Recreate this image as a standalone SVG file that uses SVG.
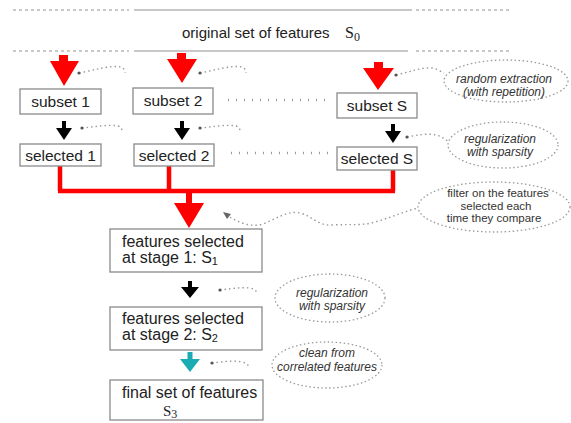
<svg xmlns="http://www.w3.org/2000/svg" width="571" height="423" viewBox="0 0 571 423">
<defs>
<style>
.bg{fill:#ffffff}
.hdash{stroke:#c8c8c8;stroke-width:2;stroke-dasharray:3 3;fill:none}
.hsolid{stroke:#c8c8c8;stroke-width:2;fill:none}
.box{fill:#ffffff;stroke:#8a8a8a;stroke-width:1.3}
.lbl{font-family:"Liberation Sans",Arial,sans-serif;font-size:15.5px;fill:#222}
.big{font-family:"Liberation Sans",Arial,sans-serif;font-size:16px;fill:#222}
.title{font-family:"Liberation Sans",Arial,sans-serif;font-size:15px;fill:#222}
.math{font-family:"Liberation Serif","Times New Roman",serif;fill:#222}
.note{font-family:"Liberation Sans",Arial,sans-serif;font-size:12px;fill:#333;text-anchor:middle}
.note2{font-family:"Liberation Sans",Arial,sans-serif;font-size:11.5px;fill:#333;text-anchor:middle}
.it{font-style:italic}
.ell{fill:none;stroke:#9a9a9a;stroke-width:1.3;stroke-dasharray:1.5 2.5}
.lead{fill:none;stroke:#9a9a9a;stroke-width:1.4;stroke-dasharray:1.5 3}
.dot{fill:#555}
.gap{stroke:#9a9a9a;stroke-width:2.5;stroke-dasharray:1 7;fill:none}
.red{fill:#ff0000}
.redl{stroke:#ff0000;stroke-width:4.5;fill:none}
.blk{fill:#000}
.teal{fill:#1aacb2}
</style>
</defs>
<rect class="bg" x="0" y="0" width="571" height="423"/>

<g id="header">
<line class="hdash" x1="13" y1="10" x2="129" y2="10"/>
<line class="hsolid" x1="134" y1="10" x2="412" y2="10"/>
<line class="hdash" x1="416" y1="10" x2="510" y2="10"/>
<text class="title" x="182" y="38">original set of features</text>
<text class="math" x="345" y="38" font-size="16">S<tspan font-size="12" dy="3">0</tspan></text>
<line class="hdash" x1="13" y1="51" x2="129" y2="51"/>
<line class="hsolid" x1="134" y1="51" x2="408" y2="51"/>
<line class="hdash" x1="416" y1="51" x2="510" y2="51"/>
</g>

<g id="connectors">
<path class="red" d="M59,55 H68 V61 H79 L64,86 L50,61 H59 Z"/>
<path class="red" d="M177,53 H186 V59 H197 L182,83 L167,59 H177 Z"/>
<path class="red" d="M374,62 H383 V68 H394 L378,90 L363,68 H374 Z"/>
<path class="blk" d="M62,121 H66 V128 H72 L64,140 L56,128 H62 Z"/>
<path class="blk" d="M180,121 H184 V128 H190 L182,140 L174,128 H180 Z"/>
<path class="blk" d="M391,124 H395 V131 H401 L393,143 L385,131 H391 Z"/>
<line class="gap" x1="228" y1="100" x2="332" y2="100"/>
<line class="gap" x1="231" y1="153" x2="333" y2="153"/>
<path class="redl" d="M60,166 V191 M169,166 V191 M393,170 V191 M58,191 H395"/>
<path class="red" d="M186,191 H192 V203 H204 L189,228 L174,203 H186 Z"/>
<path class="blk" d="M188,281 H192 V287 H199 L190,298 L181,287 H188 Z"/>
<path class="teal" d="M187.5,352 H192.5 V359 H200 L190,372 L180,359 H187.5 Z"/>
<path class="lead" d="M79,73 C95,70 110,65 121,67 C124,68 125,71 125,73"/>
<circle class="dot" cx="79" cy="73" r="1.6"/>
<path class="lead" d="M200,73 C216,70 231,65 242,67 C245,68 246,71 246,73"/>
<circle class="dot" cx="200" cy="73" r="1.6"/>
<path class="lead" d="M396,75 C410,72 422,67 432,68 C438,69 441,72 444,73"/>
<circle class="dot" cx="396" cy="75" r="1.6"/>
<path class="lead" d="M82,128 C95,127 108,124 118,126 C121,127 122,129 122,131"/>
<circle class="dot" cx="82" cy="128" r="1.6"/>
<path class="lead" d="M200,128 C213,127 226,124 236,126 C239,127 240,129 240,131"/>
<circle class="dot" cx="200" cy="128" r="1.6"/>
<path class="lead" d="M407,137 C418,135 428,133 436,135 C441,136 444,139 448,141"/>
<circle class="dot" cx="407" cy="137" r="1.6"/>
<path class="lead" d="M226,215 C238,222 250,228 263,224 C276,219 288,210 300,213 C312,216 318,226 332,225 C348,224 362,226 375,222 C390,218 402,212 418,208"/>
<path fill="#666" d="M223,212 L231,214 L227,219 Z"/>
<path class="lead" d="M220,290 C230,289 240,287 250,288 C254,289 256,291 258,293"/>
<circle class="dot" cx="220" cy="290" r="1.6"/>
<path class="lead" d="M212,363 C222,362 232,360 242,362 C246,363 248,365 250,367"/>
<circle class="dot" cx="212" cy="363" r="1.6"/>
</g>

<g id="subset1">
<rect class="box" x="20" y="89" width="81" height="25"/>
<text class="lbl" x="60.5" y="107" text-anchor="middle">subset 1</text>
</g>
<g id="subset2">
<rect class="box" x="133" y="88" width="80" height="26"/>
<text class="lbl" x="173" y="106" text-anchor="middle">subset 2</text>
</g>
<g id="subsetS">
<rect class="box" x="337" y="93" width="80" height="25"/>
<text class="lbl" x="377" y="111" text-anchor="middle">subset S</text>
</g>
<g id="selected1">
<rect class="box" x="20" y="144" width="81" height="22"/>
<text class="lbl" x="60.5" y="160.5" text-anchor="middle">selected 1</text>
</g>
<g id="selected2">
<rect class="box" x="134" y="144" width="80" height="22"/>
<text class="lbl" x="174" y="160.5" text-anchor="middle">selected 2</text>
</g>
<g id="selectedS">
<rect class="box" x="337" y="147" width="80" height="23"/>
<text class="lbl" x="377" y="164" text-anchor="middle">selected S</text>
</g>

<g id="stage1">
<rect class="box" x="110" y="229" width="152" height="43"/>
<text class="big" x="122" y="247">features selected</text>
<text class="big" x="122" y="263">at stage 1: S<tspan font-size="11" dy="2">1</tspan></text>
</g>
<g id="stage2">
<rect class="box" x="110" y="307" width="152" height="43"/>
<text class="big" x="122" y="324">features selected</text>
<text class="big" x="122" y="340">at stage 2: S<tspan font-size="11" dy="2">2</tspan></text>
</g>
<g id="final">
<rect class="box" x="110" y="380" width="153" height="40"/>
<text class="big" x="122" y="398">final set of features</text>
<text class="math" x="163" y="416" font-size="15">S<tspan font-size="12" dy="1.5">3</tspan></text>
</g>

<g id="note-random">
<ellipse class="ell" cx="506" cy="81" rx="62" ry="21"/>
<text class="note it" x="504" y="83">random extraction</text>
<text class="note it" x="504" y="96">(with repetition)</text>
</g>
<g id="note-reg1">
<ellipse class="ell" cx="503" cy="145" rx="55" ry="23"/>
<text class="note it" x="500" y="143">regularization</text>
<text class="note it" x="500" y="156">with sparsity</text>
</g>
<g id="note-filter">
<ellipse class="ell" cx="494" cy="207" rx="76" ry="25"/>
<text class="note2" x="498" y="197">filter on the features</text>
<text class="note2" x="496" y="209.5">selected each</text>
<text class="note2" x="494" y="222">time they compare</text>
</g>
<g id="note-reg2">
<ellipse class="ell" cx="330" cy="298" rx="55" ry="24"/>
<text class="note it" x="332" y="297">regularization</text>
<text class="note it" x="332" y="310">with sparsity</text>
</g>
<g id="note-clean">
<ellipse class="ell" cx="327" cy="365" rx="55" ry="23"/>
<text class="note it" x="327" y="357">clean from</text>
<text class="note it" x="327" y="371">correlated features</text>
</g>
</svg>
